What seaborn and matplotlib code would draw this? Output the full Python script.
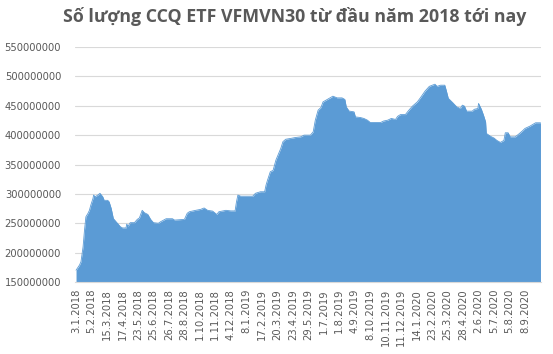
import seaborn as sns
import pandas as pd
import matplotlib.pyplot as plt

# so luong CCQ, doc tu hinh (trieu)
phien = [0, 5, 7, 10, 12, 14, 17, 19, 21, 24, 25, 27, 31, 34, 38, 40, 45, 47, 50, 53,
         57, 59, 63, 66, 71, 72, 74, 77, 83, 87, 90, 94, 97, 102, 106, 110, 117, 120, 128, 137,
         140, 154, 158, 161, 170, 177, 182, 187, 194, 200, 203, 213, 220, 226, 228, 230, 234, 251, 255, 262,
         268, 270, 272, 276, 280, 284, 288, 291, 294, 298, 305, 312, 319, 324, 326, 333, 337, 340, 344, 348,
         351, 357, 362, 365, 371, 378, 382, 384, 388, 395, 397, 404, 409, 414, 418, 433, 437, 443, 448, 454,
         457, 461, 468, 473, 478, 485, 489, 496, 502, 510, 513, 518, 524, 526, 529, 535, 541, 546, 549, 552,
         555, 563, 566, 571, 572, 576, 579, 582, 583, 589, 594, 598, 603, 608, 610, 614, 617, 624, 629, 634,
         638, 645, 653, 660]
so_luong = [170, 179, 184.5, 210, 238, 261, 267, 272, 281, 292, 298, 295, 298, 301, 295, 289, 289, 286.5, 275, 258,
            252.5, 250, 244, 242, 242, 248.6, 245, 251, 251, 256.6, 259, 272, 268, 265, 256.6, 251, 250, 252.5, 257.7, 257.7,
            255.4, 256.6, 267, 269.6, 272, 273.6, 276, 272, 270.7, 265, 269.6, 272, 271, 271, 286.6, 298, 296, 296, 301, 303.6,
            303.6, 315, 323, 337.6, 340, 357.5, 369, 377.6, 388.9, 393, 394.4, 396, 397, 400, 400, 400, 405.6, 425.5, 442.5, 447,
            456.6, 460.7, 464, 466.3, 463.4, 463.4, 460.7, 448, 441, 439.6, 431, 430, 428.4, 425.5, 421.6, 421.6, 424, 425.5, 428.4, 426.7,
            432, 435, 435, 442.5, 449.3, 456.6, 463, 475, 483, 486.7, 483, 485, 485, 476.5, 462.6, 455.6, 448, 445.4, 451, 449.3,
            440.8, 440.8, 444, 445.4, 454, 444, 434, 422.6, 403, 398, 395, 391, 387.6, 391, 404, 404, 397, 397, 401.7, 406.8,
            411.4, 415.3, 421, 421]

nhan_ngay = ["3.1.2018", "5.2.2018", "15.3.2018", "17.4.2018", "23.5.2018", "25.6.2018",
             "26.7.2018", "28.8.2018", "1.10.2018", "1.11.2018", "4.12.2018", "8.1.2019",
             "17.2.2019", "20.3.2019", "23.4.2019", "29.5.2019", "1.7.2019", "1.8.2019",
             "4.9.2019", "8.10.2019", "10.11.2019", "11.12.2019", "14.1.2020", "23.2.2020",
             "25.3.2020", "28.4.2020", "2.6.2020", "5.7.2020", "5.8.2020", "8.9.2020"]
buoc_nhan = 22

df = pd.DataFrame({"phien": phien, "so_luong": [v * 1e6 for v in so_luong]})

sns.set_theme(style="white")
plt.rcParams["font.family"] = ["DejaVu Sans"]

fig = plt.figure(figsize=(5.53, 3.54), dpi=100)
ax = fig.add_axes([0.1356, 0.2034, 0.8424, 0.6638])

mau = "#5B9BD5"
sns.lineplot(data=df, x="phien", y="so_luong", color=mau, linewidth=0.6, ax=ax)
ax.fill_between(df["phien"], 150e6, df["so_luong"], color=mau, linewidth=0)

ax.set_xlim(-1.5, 660.5)
ax.set_ylim(150e6, 550e6)
ax.set_yticks(range(150000000, 550000001, 50000000))
ax.set_yticklabels([str(v) for v in range(150000000, 550000001, 50000000)])
ax.set_xticks([i * buoc_nhan for i in range(len(nhan_ngay))])
ax.set_xticklabels(nhan_ngay, rotation=90)
ax.set_xlabel("")
ax.set_ylabel("")

ax.grid(axis="y", color="#D9D9D9", linewidth=0.8)
ax.set_axisbelow(True)
for s in ["top", "right", "left"]:
    ax.spines[s].set_visible(False)
ax.spines["bottom"].set_color("#D9D9D9")
ax.spines["bottom"].set_linewidth(0.8)
ax.tick_params(axis="y", length=0, pad=10, labelsize=7.2, labelcolor="#595959")
ax.tick_params(axis="x", length=0, pad=5, labelsize=7.2, labelcolor="#595959")

fig.text(0.532, 0.952, "Số lượng CCQ ETF VFMVN30 từ đầu năm 2018 tới nay",
         ha="center", va="center", fontsize=12.8, fontweight="bold",
         color="#595959", family="Open Sans")

fig.savefig("out.png", dpi=100, facecolor="white")
